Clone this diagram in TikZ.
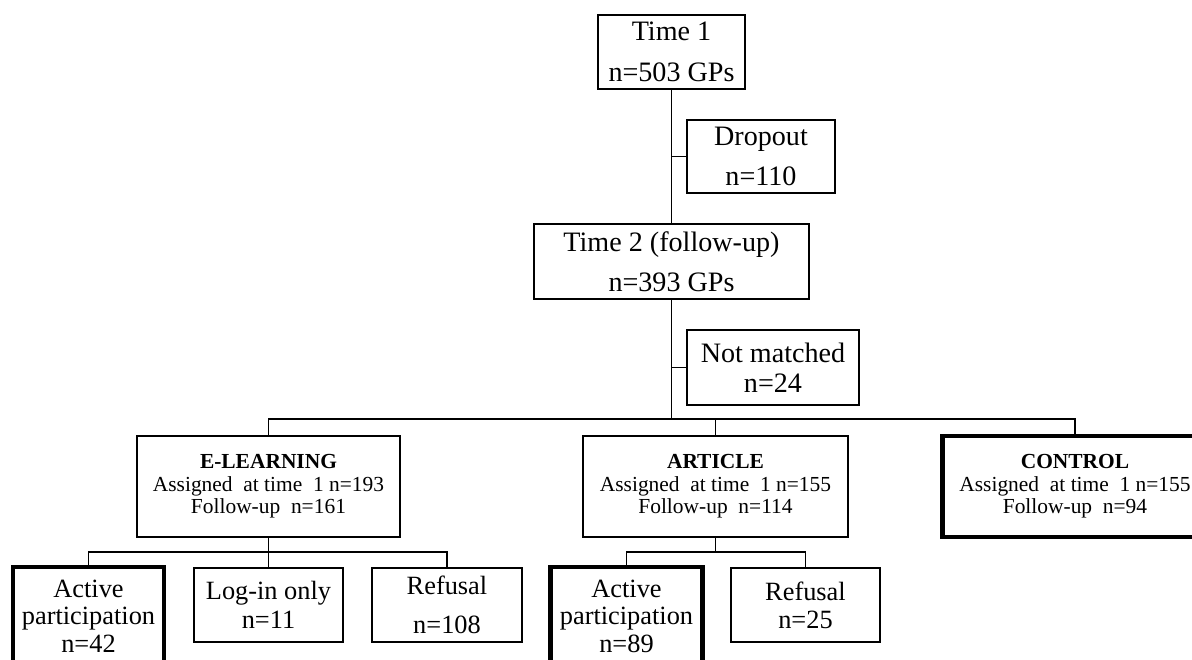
\documentclass[tikz,border=0pt]{standalone}
\usepackage{fontspec}
\setmainfont{Liberation Serif}
\usepackage{tikz}
\usetikzlibrary{positioning,calc}

\tikzset{
  box/.style={draw, line width=0.9pt, inner sep=0pt, align=center},
  heavybox/.style={box, line width=2.6pt},
  bigtext/.style={font=\fontsize{16}{23}\selectfont},
  smalltext/.style={font=\fontsize{12.2}{12.8}\selectfont},
  link/.style={line width=0.9pt}
}

\begin{document}
\begin{tikzpicture}
  \useasboundingbox (0,0) rectangle (23.84,13.18);

  % Top part
  \node[box,bigtext,minimum width=2.94cm,minimum height=1.48cm] (time1) at (13.43,12.14) {Time 1\\n=503 GPs};
  \node[box,bigtext,minimum width=2.96cm,minimum height=1.46cm] (dropout) at (15.22,10.05) {Dropout\\n=110};
  \node[box,bigtext,minimum width=5.5cm,minimum height=1.5cm] (time2) at (13.43,7.95) {Time 2 (follow-up)\\n=393 GPs};
  \node[box,font=\fontsize{16}{16.8}\selectfont,minimum width=3.44cm,minimum height=1.5cm] (nomatch) at (15.46,5.83) {Not matched\\n=24};

  % Groups
  \node[box,smalltext,minimum width=5.26cm,minimum height=2.02cm] (elearn) at (5.37,3.45) {\textbf{E-LEARNING}\\Assigned~ at time~ 1 n=193\\Follow-up~ n=161};
  \node[box,smalltext,minimum width=5.3cm,minimum height=2.02cm] (article) at (14.31,3.45) {\textbf{ARTICLE}\\Assigned~ at time~ 1 n=155\\Follow-up~ n=114};
  \node[heavybox,smalltext,minimum width=5.3cm,minimum height=2.02cm] (control) at (21.5,3.45) {\textbf{CONTROL}\\Assigned~ at time~ 1 n=155\\Follow-up~ n=94};

  % Outcomes
  \node[heavybox,font=\fontsize{15}{15.6}\selectfont,minimum width=3.02cm,minimum height=1.96cm] (eactive) at (1.77,0.86) {Active\\participation\\n=42};
  \node[box,font=\fontsize{15}{16.5}\selectfont,minimum width=2.98cm,minimum height=1.48cm] (elogin) at (5.37,1.08) {Log-in only\\n=11};
  \node[box,font=\fontsize{15}{22}\selectfont,minimum width=3.0cm,minimum height=1.48cm] (erefuse) at (8.94,1.08) {Refusal\\n=108};
  \node[heavybox,font=\fontsize{15}{15.6}\selectfont,minimum width=3.04cm,minimum height=1.96cm] (aactive) at (12.53,0.86) {Active\\participation\\n=89};
  \node[box,font=\fontsize{15}{16}\selectfont,minimum width=2.98cm,minimum height=1.48cm] (arefuse) at (16.11,1.08) {Refusal\\n=25};

  % Branch points
  \coordinate (split) at (13.43,4.8);
  \coordinate (esplit) at (5.37,2.14);
  \coordinate (asplit) at (14.31,2.14);

  % Lines
  \draw[link] (time1) -- (time2);
  \draw[link] (dropout.west) -- (dropout.west -| time1.south);
  \draw[link] (time2.south) -- (split);
  \draw[link] (nomatch.west) -- (nomatch.west -| time2.south);
  \draw[link] (elearn.north) |- (split) -| (control.north);
  \draw[link] (article.north) -- (article.north |- split);
  \draw[link] (elearn.south) -- (elogin.north);
  \draw[link] (eactive.north) |- (esplit) -| (erefuse.north);
  \draw[link] (article.south) -- (asplit);
  \draw[link] (aactive.north) |- (asplit) -| (arefuse.north);
\end{tikzpicture}
\end{document}
